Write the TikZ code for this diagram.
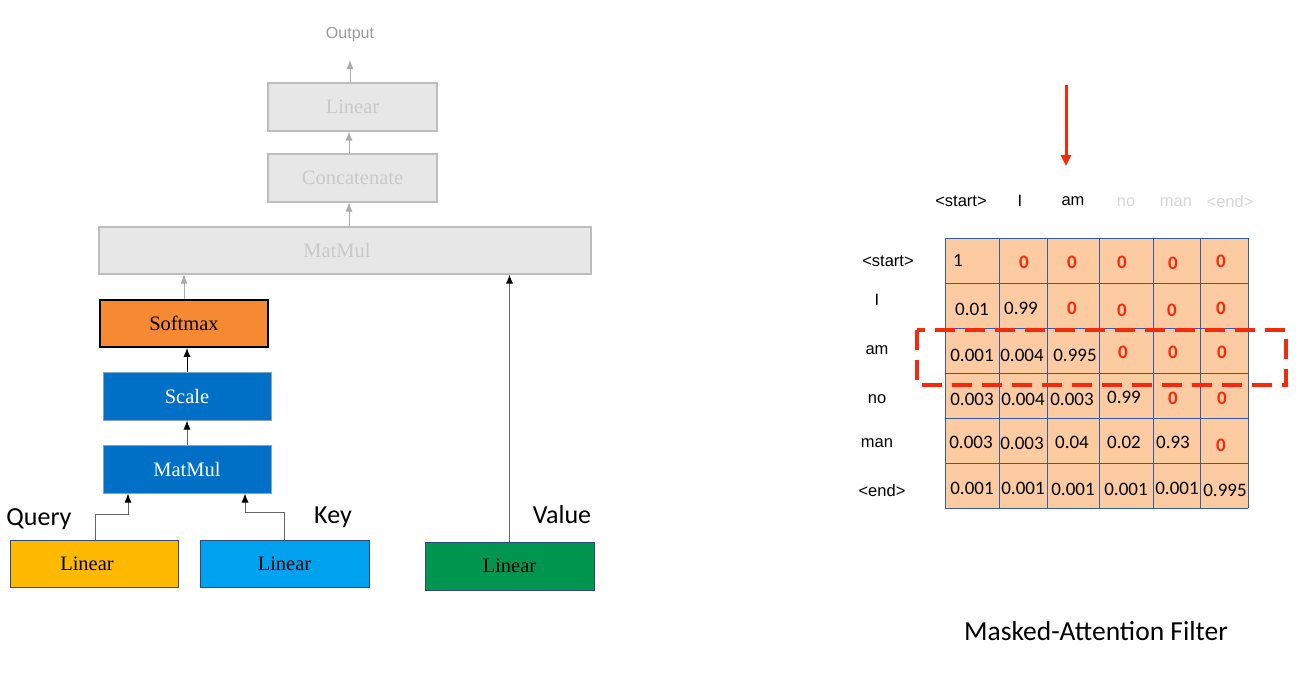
\documentclass[tikz,border=0pt]{standalone}
\usepackage{fontspec}
\setmainfont{Liberation Serif}
\newfontfamily\calib{Carlito}
\newfontfamily\arialf{Liberation Sans}
\usetikzlibrary{arrows.meta}
\definecolor{gfill}{HTML}{E7E7E7}
\definecolor{gdraw}{HTML}{BDBDBD}
\definecolor{gtext}{HTML}{C9C9C9}
\definecolor{garr}{HTML}{ABABAB}
\definecolor{orng}{HTML}{F68A32}
\definecolor{blu}{HTML}{0070C6}
\definecolor{amber}{HTML}{FFB900}
\definecolor{lblue}{HTML}{00A2EF}
\definecolor{grn}{HTML}{009650}
\definecolor{peach}{HTML}{FCCBA1}
\definecolor{cellb}{HTML}{3A5BA0}
\definecolor{redc}{HTML}{F42A0C}
\definecolor{ltgray}{HTML}{D6D6D6}
\tikzset{
  box/.style={rectangle, inner sep=0pt, font=\fontsize{20.5}{24}\selectfont},
  graybox/.style={box, fill=gfill, draw=gdraw, line width=1.2pt, text=gtext},
  bluebox/.style={box, fill=blu, draw=gdraw!70!blu, line width=1pt, text=white},
  inbox/.style={box, draw=cellb!80!black, line width=1pt, text=black},
  garrow/.style={draw=garr, line width=0.9pt, -{Latex[length=9pt,width=7pt]}},
  barrow/.style={draw=black, line width=0.9pt, -{Latex[length=9pt,width=7pt]}},
  mixarrow/.style={draw=gray!80!black, line width=0.9pt, -{Latex[length=9pt,width=7pt,color=black]}},
  sidelbl/.style={font=\calib\fontsize{26}{30}\selectfont, inner sep=0pt},
  hdr/.style={font=\arialf\fontsize{16.5}{19}\selectfont, inner sep=0pt},
  num/.style={font=\calib\fontsize{19}{22}\selectfont, inner sep=0pt},
  zero/.style={font=\calib\bfseries\fontsize{19}{22}\selectfont, text=redc, inner sep=0pt},
}
\begin{document}
\begin{tikzpicture}[x=1pt,y=-1pt]
\useasboundingbox (0,0) rectangle (1309,688);
% ---------- left diagram ----------
\node[font=\arialf\fontsize{16}{19}\selectfont, text=garr!90!black, inner sep=0pt] (outlbl) at (350,35) {Output};
\coordinate (outtip) at (350,60);
\node[graybox, minimum width=169pt, minimum height=48pt] (lin2) at (352.5,107) {Linear};
\node[graybox, minimum width=169pt, minimum height=48pt] (conc) at (352.5,178) {Concatenate};
\node[graybox, minimum width=492pt, minimum height=47pt] (mm2) at (345,250.5) {\hspace*{-16pt}MatMul};
\node[box, fill=orng, draw=black, line width=1.8pt, minimum width=168pt, minimum height=47pt] (soft) at (184,323.5) {Softmax};
\node[bluebox, minimum width=168pt, minimum height=48pt] (scale) at (187,396) {Scale};
\node[bluebox, minimum width=168pt, minimum height=48pt] (mm1) at (187,469) {MatMul};
\node[inbox, fill=amber, minimum width=168pt, minimum height=47pt] (q) at (94,563.5) {\hspace*{-14pt}Linear};
\node[inbox, fill=lblue, minimum width=169pt, minimum height=47pt] (k) at (284.5,563.5) {Linear};
\node[inbox, fill=grn, minimum width=169pt, minimum height=48pt] (v) at (509.5,566) {Linear};
\node[sidelbl] (qlbl) at (39,519) {Query};
\node[sidelbl] (klbl) at (333,517) {Key};
\node[sidelbl] (vlbl) at (562,515) {Value};
% arrows
\draw[garrow] ([xshift=-2.5pt]lin2.north) -- (outtip);
\draw[garrow] ([xshift=-3.5pt]conc.north) -- ([xshift=-3.5pt]lin2.south);
\draw[garrow] ([xshift=-3.5pt]conc.south |- mm2.north) -- ([xshift=-3.5pt]conc.south);
\draw[garrow] (soft.north) -- (soft.north |- mm2.south);
\draw[barrow] (scale.north) -- (scale.north |- soft.south);
\draw[mixarrow] (mm1.north) -- (scale.south);
\draw[mixarrow] ([xshift=1pt]q.north) -- ++(0,-25) -| ([xshift=-59pt]mm1.south);
\draw[mixarrow] (k.north) -- ++(0,-27) -| ([xshift=58pt]mm1.south);
\draw[mixarrow] (v.north) -- (v.north |- mm2.south);
% ---------- right: masked attention ----------
\coordinate (rtop) at (1066,85);
\coordinate (rtip) at (1066,166);
\draw[draw=redc, line width=3pt, -{Triangle[length=11pt,width=10pt]}] (rtop) -- (rtip);
% column headers
\node[hdr] (h1) at (961,201) {<start>};
\node[hdr] (h2) at (1020,201) {I};
\node[hdr] (h3) at (1073,201) {am};
\node[hdr, text=ltgray] (h4) at (1126,202) {no};
\node[hdr, text=ltgray] (h5) at (1176,202) {man};
\node[hdr, text=ltgray] (h6) at (1230,202) {<end>};
% row labels
\node[hdr] (r1) at (888,261) {<start>};
\node[hdr] (r2) at (877,300) {I};
\node[hdr] (r3) at (877,350) {am};
\node[hdr] (r4) at (877,399) {no};
\node[hdr] (r5) at (877,443) {man};
\node[hdr] (r6) at (882,491) {<end>};
% grid
\fill[peach] (945,238) rectangle (1248,508);
\foreach \x in {945,999,1047,1099,1153,1200,1248}
  \draw[cellb, line width=1pt] (\x,238) -- (\x,508);
\foreach \y in {238,283,328,373,418,463,508}
  \draw[cellb, line width=1pt] (945,\y) -- (1248,\y);
% row 1
\node[num, anchor=west] (c11) at (953,260) {1};
\node[zero] (c12) at (1024,262) {0};
\node[zero] (c13) at (1072,262) {0};
\node[zero] (c14) at (1122,262) {0};
\node[zero] (c15) at (1173,263) {0};
\node[zero] (c16) at (1221,261) {0};
% row 2
\node[num] (c21) at (972,309) {0.01};
\node[num] (c22) at (1021,308) {0.99};
\node[zero] (c23) at (1072,308) {0};
\node[zero] (c24) at (1122,310) {0};
\node[zero] (c25) at (1172,310) {0};
\node[zero] (c26) at (1221,308) {0};
% row 3
\node[num] (c31) at (972,355) {0.001};
\node[num] (c32) at (1022,355) {0.004};
\node[num] (c33) at (1075,355) {0.995};
\node[zero] (c34) at (1123,352) {0};
\node[zero] (c35) at (1173,352) {0};
\node[zero] (c36) at (1222,352) {0};
% row 4
\node[num] (c41) at (972,399) {0.003};
\node[num] (c42) at (1023,399) {0.004};
\node[num] (c43) at (1072,399) {0.003};
\node[num] (c44) at (1124,397) {0.99};
\node[zero] (c45) at (1173,398) {0};
\node[zero] (c46) at (1222,398) {0};
% row 5
\node[num] (c51) at (971,442) {0.003};
\node[num] (c52) at (1022,443) {0.003};
\node[num] (c53) at (1072,442) {0.04};
\node[num] (c54) at (1124,442) {0.02};
\node[num] (c55) at (1173,442) {0.93};
\node[zero] (c56) at (1221,445) {0};
% row 6
\node[num] (c61) at (972,488) {0.001};
\node[num] (c62) at (1023,488) {0.001};
\node[num] (c63) at (1073,489) {0.001};
\node[num] (c64) at (1126,489) {0.001};
\node[num] (c65) at (1177,488) {0.001};
\node[num] (c66) at (1225,490) {0.995};
% dashed highlight
\draw[draw=redc, line width=3.5pt, dash pattern=on 20pt off 10pt] (917,330) rectangle (1286,385);
% caption
\node[font=\calib\fontsize{27.5}{32}\selectfont, inner sep=0pt] (cap) at (1096,631) {Masked-Attention Filter};
\end{tikzpicture}
\end{document}
